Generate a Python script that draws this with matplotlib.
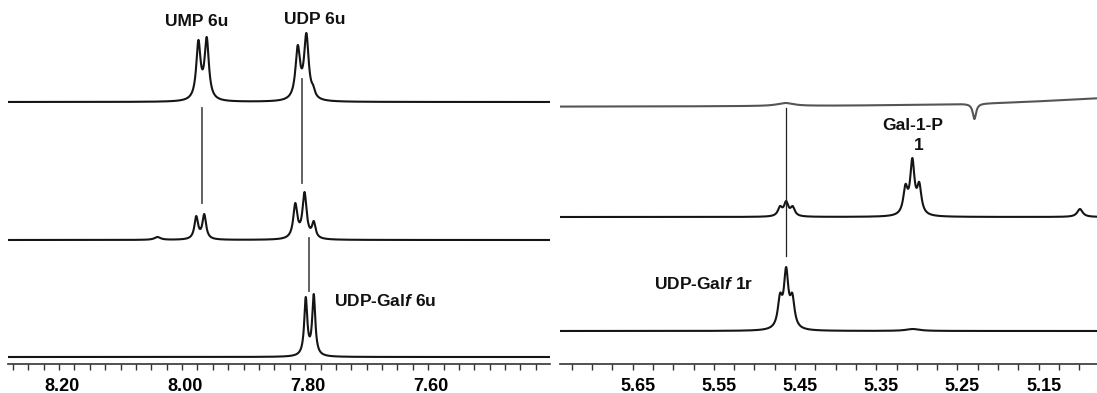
import numpy as np
import matplotlib
matplotlib.use("Agg")
import matplotlib.pyplot as plt
from matplotlib.transforms import ScaledTranslation

plt.rcParams["font.family"] = "Liberation Sans"
plt.rcParams["font.weight"] = "bold"
plt.rcParams["mathtext.fontset"] = "custom"
plt.rcParams["mathtext.it"] = "Liberation Sans:bold:italic"
plt.rcParams["mathtext.rm"] = "Liberation Sans:bold"

# aromatic region (H6 of uracil), three traces top to bottom
aro_top_ppm = [7.9735, 7.960, 7.812, 7.798, 7.787]
aro_top_int = [62, 65, 57, 69, 17]
aro_top_w = [0.0042, 0.0042, 0.0045, 0.0045, 0.0035]

aro_mid_ppm = [8.040, 7.977, 7.964, 7.816, 7.801, 7.786]
aro_mid_int = [3, 24, 26, 37, 48, 19]
aro_mid_w = [0.006, 0.0036, 0.0036, 0.004, 0.004, 0.0035]

aro_bot_ppm = [7.799, 7.786]
aro_bot_int = [60, 63]
aro_bot_w = [0.003, 0.003]

# anomeric region, three traces top to bottom
ano_top_ppm = [5.462, 5.229, 5.020]
ano_top_int = [4, -12, 10]
ano_top_w = [0.012, 0.0025, 0.15]

ano_mid_ppm = [5.4685, 5.461, 5.453, 5.314, 5.3055, 5.297, 5.099]
ano_mid_int = [11, 16, 11, 33, 59, 35, 8]
ano_mid_w = [0.0032, 0.0032, 0.0032, 0.0032, 0.0032, 0.0032, 0.004]

ano_bot_ppm = [5.4685, 5.461, 5.4534, 5.305]
ano_bot_int = [38, 64, 38, 2]
ano_bot_w = [0.0033, 0.0033, 0.0033, 0.01]


def lor(x, c, w):
    return w**2 / ((x - c)**2 + w**2)


def spectrum(x, centers, heights, widths):
    c = np.array(centers)
    w = np.array(widths)
    # scale each line so the summed trace reaches the listed height at each centre
    m = lor(c[:, None], c[None, :], w[None, :])
    amps = np.linalg.solve(m, np.array(heights, dtype=float))
    return (amps[None, :] * lor(x[:, None], c[None, :], w[None, :])).sum(axis=1)


fig = plt.figure(figsize=(10.97, 3.93), dpi=100)
ax1 = fig.add_axes([8/1097, 29/393, 542/1097, 364/393])
ax2 = fig.add_axes([560/1097, 29/393, 537/1097, 364/393])

x1 = np.linspace(8.283, 7.402, 4000)
x2 = np.linspace(5.7396, 5.078, 4000)

ax1.plot(x1, 262 + spectrum(x1, aro_top_ppm, aro_top_int, aro_top_w), color="#151515", lw=1.5)
ax1.plot(x1, 124 + spectrum(x1, aro_mid_ppm, aro_mid_int, aro_mid_w), color="#151515", lw=1.5)
ax1.plot(x1, 7 + spectrum(x1, aro_bot_ppm, aro_bot_int, aro_bot_w), color="#151515", lw=1.5)

ax2.plot(x2, 257 + spectrum(x2, ano_top_ppm, ano_top_int, ano_top_w), color="#555555", lw=1.5)
ax2.plot(x2, 147 + spectrum(x2, ano_mid_ppm, ano_mid_int, ano_mid_w), color="#151515", lw=1.5)
ax2.plot(x2, 33 + spectrum(x2, ano_bot_ppm, ano_bot_int, ano_bot_w), color="#151515", lw=1.5)

# guide lines between traces
ax1.plot([7.968, 7.968], [256, 161], color="#555555", lw=1.3)
ax1.plot([7.805, 7.805], [285, 181], color="#555555", lw=1.3)
ax1.plot([7.794, 7.794], [126, 73], color="#555555", lw=1.3)
ax2.plot([5.461, 5.461], [256, 108], color="#222222", lw=0.9)

ax1.text(7.976, 342, "UMP 6u", ha="center", va="center", fontsize=12.5, color="#111111")
ax1.text(7.785, 344, "UDP 6u", ha="center", va="center", fontsize=12.5, color="#111111")
ax1.text(7.670, 63, r"UDP-Gal$\it{f}$ 6u", ha="center", va="center", fontsize=12.5, color="#111111")
ax2.text(5.3046, 239, "Gal-1-P", ha="center", va="center", fontsize=12.5, color="#111111")
ax2.text(5.297, 218, "1", ha="center", va="center", fontsize=12.5, color="#111111")
ax2.text(5.563, 80, r"UDP-Gal$\it{f}$ 1r", ha="center", va="center", fontsize=12.5, color="#111111")

ax1.set_xlim(8.283, 7.402)
ax2.set_xlim(5.7396, 5.078)
for ax, major, shift in [(ax1, [8.20, 8.00, 7.80, 7.60], 3), (ax2, [5.65, 5.55, 5.45, 5.35, 5.25, 5.15], 5)]:
    ax.set_ylim(0, 364)
    lo, hi = sorted(ax.get_xlim())
    ticks = np.arange(np.ceil(lo / 0.025) * 0.025, hi, 0.025)
    ax.set_xticks(ticks, minor=True)
    ax.set_xticks(major)
    ax.set_xticklabels(["%.2f" % v for v in major], fontsize=13, fontweight="bold")
    ax.tick_params(axis="x", which="both", direction="out", length=4, width=1, color="#333333", pad=6)
    ax.set_yticks([])
    for s in ["left", "right", "top"]:
        ax.spines[s].set_visible(False)
    ax.spines["bottom"].set_color("#333333")
    ax.spines["bottom"].set_linewidth(1.2)
    off = ScaledTranslation(shift / 100, 0, fig.dpi_scale_trans)
    for lab in ax.get_xticklabels():
        lab.set_transform(lab.get_transform() + off)

fig.savefig("out.png", dpi=100)
